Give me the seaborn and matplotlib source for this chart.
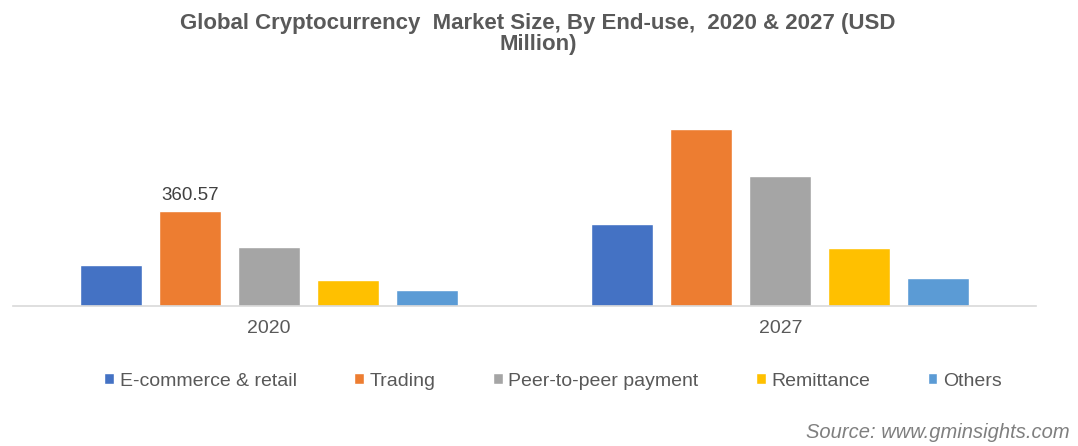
import matplotlib
matplotlib.use("Agg")
import matplotlib.pyplot as plt
from matplotlib import font_manager
import seaborn as sns
import pandas as pd

# Market size by end-use (USD Million)
years = ["2020", "2027"]
segments = ["E-commerce & retail", "Trading", "Peer-to-peer payment", "Remittance", "Others"]
values_2020 = [155, 360.57, 225, 100, 60]
values_2027 = [313, 673, 495, 220, 108]
colors = ["#4472C4", "#ED7D31", "#A5A5A5", "#FFC000", "#5B9BD5"]

title = "Global Cryptocurrency  Market Size, By End-use,  2020 & 2027 (USD\nMillion)"
source = "Source: www.gminsights.com"

rows = []
for seg, v20, v27 in zip(segments, values_2020, values_2027):
    rows.append({"Year": "2020", "Segment": seg, "Value": v20})
    rows.append({"Year": "2027", "Segment": seg, "Value": v27})
df = pd.DataFrame(rows)

sns.set_theme(style="white")
available = {f.name for f in font_manager.fontManager.ttflist}
base_font = "Liberation Sans" if "Liberation Sans" in available else "DejaVu Sans"
plt.rcParams["font.family"] = [base_font, "DejaVu Sans"]

W, H = 1078, 446
fig = plt.figure(figsize=(W / 100, H / 100), dpi=100)
# axes placed in pixel terms: x 13..1036, baseline at y=306, top at y=100
ax = fig.add_axes([13 / W, 1 - 306 / H, (1036 - 13) / W, (306 - 100) / H])

sns.barplot(data=df, x="Year", y="Value", hue="Segment", order=years,
            hue_order=segments, palette=colors, width=0.772, gap=0.215,
            saturation=1, ax=ax, legend=True)

ax.set_ylim(0, 784)
ax.set_xlim(-0.5, 1.5)
ax.set_xlabel("")
ax.set_ylabel("")
ax.set_yticks([])
for side in ["top", "right", "left"]:
    ax.spines[side].set_visible(False)
ax.spines["bottom"].set_color("#D9D9D9")
ax.spines["bottom"].set_linewidth(1.2)
ax.tick_params(axis="x", length=0, pad=10, labelsize=14, labelcolor="#595959")

# data label on the Trading 2020 bar
trading_idx = segments.index("Trading")
bar = ax.containers[trading_idx][0]
ax.annotate(f"{values_2020[trading_idx]:.2f}",
            (bar.get_x() + bar.get_width() / 2, bar.get_height()),
            xytext=(0, 5), textcoords="offset points", ha="center", va="bottom",
            fontsize=13.5, color="#404040")

handles, labels = ax.get_legend_handles_labels()
ax.get_legend().remove()
fig.legend(handles, labels, loc="center", bbox_to_anchor=(553 / W, 1 - 381 / H),
           ncol=5, frameon=False, fontsize=14, handlelength=0.5,
           handleheight=0.5, handletextpad=0.3, columnspacing=2.95,
           labelcolor="#595959")

fig.text(538 / W, 1 - 34 / H, title, ha="center", va="center",
         fontsize=16, fontweight="bold", color="#595959", linespacing=1.05)

fig.text(1070 / W, 1 - 432 / H, source, ha="right", va="center",
         fontsize=14.5, style="italic", color="#7F7F7F")

fig.savefig("out.png", dpi=100)
